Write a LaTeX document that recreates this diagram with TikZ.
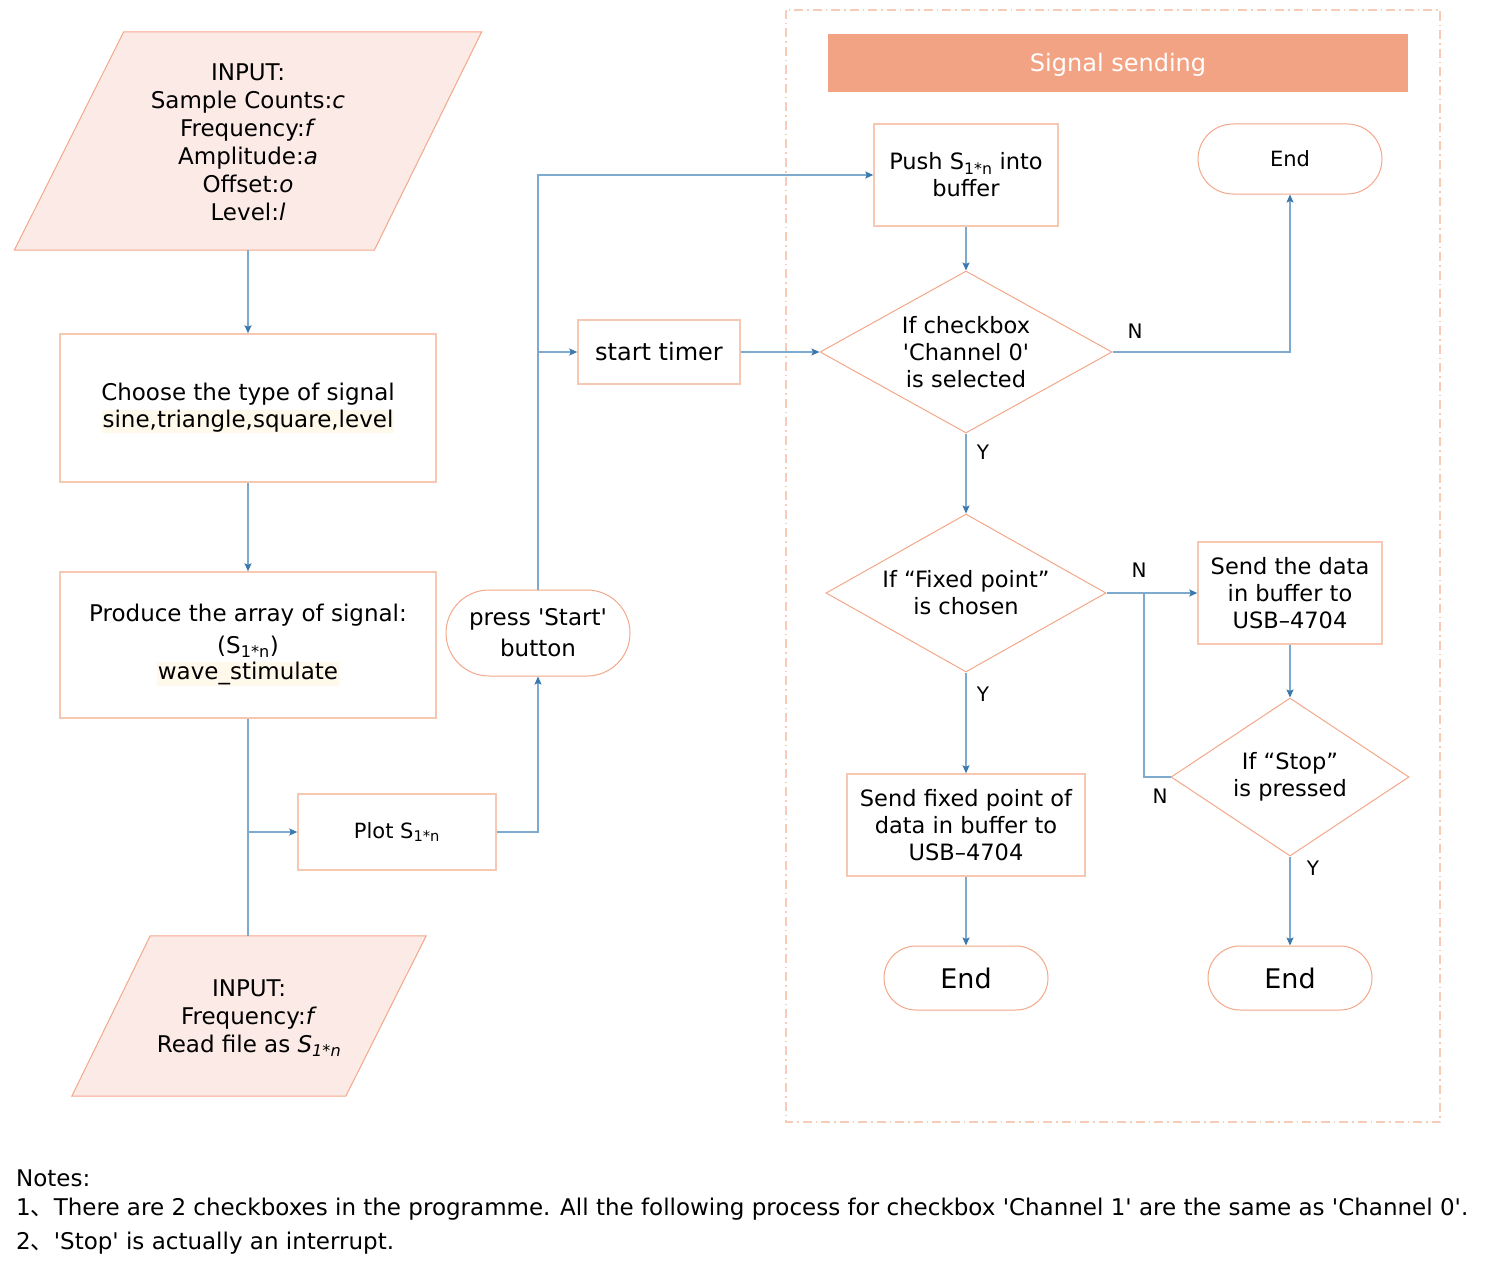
\documentclass[tikz,border=0pt]{standalone}
\usepackage{fontspec}
\setmainfont{DejaVu Sans}
\newfontfamily\cjk{Noto Sans CJK SC}
\usetikzlibrary{arrows.meta,shapes.geometric}
\definecolor{bord}{HTML}{F6C7B1}
\definecolor{dia}{HTML}{F3A88A}
\definecolor{pfill}{HTML}{FBEAE5}
\definecolor{hdr}{HTML}{F2A384}
\definecolor{ln}{HTML}{7FAACF}
\definecolor{tip}{HTML}{3A78AD}
\definecolor{hl}{HTML}{FFF9EC}
\definecolor{cont}{HTML}{F8CBB6}
\newcommand\sq{\textquotesingle}
\newcommand\Ssub{S\textsubscript{1*n}}
\newcommand\hlt[1]{{\setlength\fboxsep{0.5pt}\colorbox{hl}{#1}}}
\tikzset{
  txt/.style={align=center, inner sep=0pt, font=\fontsize{22.5}{27}\selectfont},
  box/.style={draw=bord, line width=1.4pt, fill=white, txt},
  term/.style={draw=dia, line width=1pt, fill=white, txt},
  dmd/.style={diamond, draw=dia, line width=1pt, fill=white, inner sep=0pt},
  para/.style={draw=dia, line width=1pt, fill=pfill},
  lbl/.style={font=\fontsize{20}{24}\selectfont, inner sep=0pt},
  conn/.style={draw=ln, line width=1.4pt, -{Stealth[length=8pt,width=7pt,inset=1.5pt,color=tip]}},
  plain/.style={draw=ln, line width=1.4pt},
  note/.style={anchor=west, inner sep=0pt, font=\fontsize{23}{26}\selectfont}
}
\begin{document}
\begin{tikzpicture}[x=1pt,y=-1pt]
\useasboundingbox (0,0) rectangle (1496,1271);
% container
\draw[cont, line width=1.3pt, dash pattern=on 9pt off 4pt on 1.5pt off 4pt] (786,10) rectangle (1440,1122);
% left column
\node[txt, minimum width=467pt, minimum height=218pt] (in1) at (248,141) {};
\draw[para] (in1.south west) -- ++(360,0) -- (in1.north east) -- ++(-358,0) -- cycle;
\node[txt, font=\fontsize{23}{28}\selectfont] at (248,142) {INPUT:\\Sample Counts:\textit{c}\\Frequency:\textit{f}\\Amplitude:\textit{a}\\Offset:\textit{o}\\Level:\textit{l}};
\node[box, minimum width=376pt, minimum height=148pt, font=\fontsize{23}{27}\selectfont] (choose) at (248,408) {Choose the type of signal\\\hlt{sine,triangle,square,level}};
\node[box, minimum width=376pt, minimum height=146pt, font=\fontsize{23}{27}\selectfont] (produce) at (248,645) {Produce the array of signal:\\[5pt](\Ssub)\\[-1pt]\hlt{wave\_stimulate}};
\node[box, minimum width=198pt, minimum height=76pt, font=\fontsize{21}{26}\selectfont] (plot) at (397,832) {Plot \Ssub};
\node[txt, minimum width=354pt, minimum height=160pt] (in2) at (249,1016) {};
\draw[para] (in2.south west) -- ++(274,0) -- (in2.north east) -- ++(-276,0) -- cycle;
\node[txt, font=\fontsize{23}{28}\selectfont] at (249,1018) {INPUT:\\Frequency:\textit{f}\\Read file as \textit{\Ssub}};
% middle
\node[term, rounded corners=43pt, minimum width=184pt, minimum height=86pt, font=\fontsize{23}{31}\selectfont] (start) at (538,633) {press \sq Start\sq\\button};
\node[box, minimum width=162pt, minimum height=64pt, font=\fontsize{24}{28}\selectfont] (timer) at (659,352) {start timer};
% right
\node[fill=hdr, minimum width=580pt, minimum height=58pt, inner sep=0pt] (hdr) at (1118,63) {};
\node[text=white, inner sep=0pt, font=\fontsize{24}{28}\selectfont] at (1118,65) {Signal sending};
\node[box, minimum width=184pt, minimum height=102pt] (push) at (966,175) {Push \Ssub{} into\\buffer};
\node[term, rounded corners=35pt, minimum width=184pt, minimum height=70pt, font=\fontsize{21}{26}\selectfont] (end1) at (1290,159) {End};
\node[dmd, minimum width=292pt, minimum height=162pt] (d1) at (966,352) {};
\node[txt] at (d1.center) {If checkbox\\\sq Channel 0\sq\\is selected};
\node[dmd, minimum width=280pt, minimum height=158pt] (d2) at (966,593) {};
\node[txt] at (d2.center) {If “Fixed point”\\is chosen};
\node[box, minimum width=184pt, minimum height=102pt] (send) at (1290,593) {Send the data\\in buffer to\\USB–4704};
\node[dmd, minimum width=238pt, minimum height=158pt] (d3) at (1290,777) {};
\node[txt] at (d3.center) {If “Stop”\\is pressed};
\node[box, minimum width=238pt, minimum height=102pt] (fixed) at (966,825) {Send fixed point of\\data in buffer to\\USB–4704};
\node[term, rounded corners=32pt, minimum width=164pt, minimum height=64pt, font=\fontsize{27}{30}\selectfont] (end2) at (966,978) {End};
\node[term, rounded corners=32pt, minimum width=164pt, minimum height=64pt, font=\fontsize{27}{30}\selectfont] (end3) at (1290,978) {End};
% connectors
\draw[conn] (in1.south) -- (choose.north);
\draw[conn] (choose.south) -- (produce.north);
\draw[plain] (produce.south) -- (produce.south |- in2.north);
\coordinate (br1) at (produce.south |- plot.west);
\draw[conn] (br1) -- (plot.west);
\draw[conn] (plot.east) -| (start.south);
\draw[conn] (start.north) |- (push.west);
\coordinate (br2) at (start.north |- timer.west);
\draw[conn] (br2) -- (timer.west);
\draw[conn] (timer.east) -- (d1.west);
\draw[conn] (push.south) -- (d1.north);
\draw[conn] (d1.east) -| (end1.south);
\draw[conn] (d1.south) -- (d2.north);
\draw[conn] (d2.east) -- (send.west);
\draw[conn] (send.south) -- (d3.north);
\coordinate (jn) at (1144,593);
\draw[plain] (d3.west) -| (jn);
\draw[conn] (d3.south) -- (end3.north);
\draw[conn] (d2.south) -- (fixed.north);
\draw[conn] (fixed.south) -- (end2.north);
% labels
\node[lbl] (lN1) at (1135,331) {N};
\node[lbl] (lY1) at (983,452) {Y};
\node[lbl] (lN2) at (1139,570) {N};
\node[lbl] (lY2) at (983,694) {Y};
\node[lbl] (lN3) at (1160,796) {N};
\node[lbl] (lY3) at (1313,868) {Y};
% notes
\node[note] (n0) at (16,1178) {Notes:};
\node[note] (n1) at (16,1209) {1{\cjk 、}There are 2 checkboxes in the programme. All the following process for checkbox \sq Channel 1\sq{} are the same as \sq Channel 0\sq.};
\node[note] (n2) at (16,1243) {2{\cjk 、}\sq Stop\sq{} is actually an interrupt.};
\end{tikzpicture}
\end{document}
